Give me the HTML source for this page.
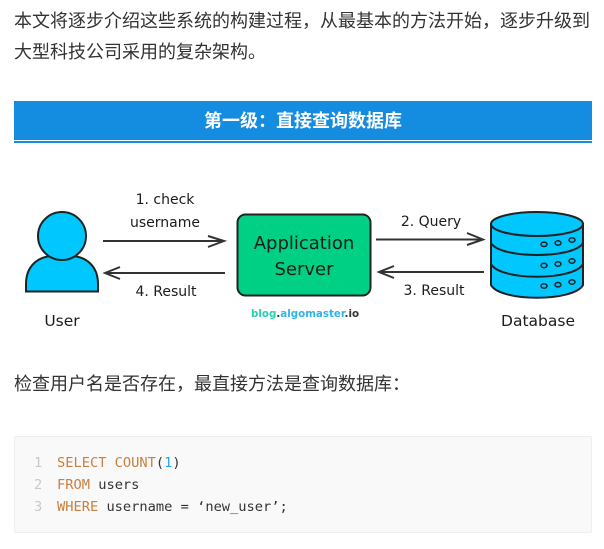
<!DOCTYPE html>
<html><head><meta charset="utf-8">
<style>
html,body{margin:0;padding:0;background:#fff;width:604px;height:549px;overflow:hidden}
.a{position:absolute;white-space:nowrap}
.t{font:18px/28px "Liberation Sans","Noto Sans CJK SC",sans-serif;color:#333;left:14px}
.c{font:13.7px/22px "DejaVu Sans Mono","Liberation Mono",monospace;color:#333;left:57px}
.k{color:#c8803f}.n{left:34px;color:#c8c8c8;font:13.7px/22px "DejaVu Sans Mono",monospace}
svg{position:absolute;left:0;top:0}
svg text{font-family:"DejaVu Sans","Liberation Sans",sans-serif;fill:#1c1c1c}
</style></head><body>
<div class="a t" style="top:7px">本文将逐步介绍这些系统的构建过程，从最基本的方法开始，逐步升级到</div>
<div class="a t" style="top:38px">大型科技公司采用的复杂架构。</div>
<div class="a" style="left:14px;top:101px;width:578px;height:39px;background:#148ce0"></div>
<div class="a" style="left:14px;top:141px;width:578px;height:2px;background:#148ce0"></div>
<div class="a" style="left:14px;top:102px;width:578px;height:39px;text-align:center;color:#fff;font:bold 18px/39px 'Liberation Sans','Noto Sans CJK SC',sans-serif">第一级：直接查询数据库</div>
<svg width="604" height="549" viewBox="0 0 604 549">
<g stroke="#222" stroke-width="2">
<path d="M26 291.500V284C26 266 38 256 54 256H70C86 256 98 266 98 284V291.500Z" fill="#00c8ff"/>
<circle cx="62" cy="236" r="24" fill="#00c8ff"/>
<rect x="237.500" y="214.500" width="133" height="81" rx="8" fill="#00d084"/>
<path d="M491 224V285C500 302 574 302 583 285V224Z" fill="#00c8ff"/>
<ellipse cx="537" cy="224" rx="46" ry="12" fill="#00c8ff"/>
<path d="M491 243C500 259 574 259 583 243M491 264C500 281 574 281 583 264" fill="none"/>
<g fill="none" stroke-width="1.500">
<ellipse cx="544" cy="244.300" rx="3" ry="2.200"/><ellipse cx="558" cy="243" rx="3" ry="2.200"/><ellipse cx="572" cy="240" rx="3" ry="2.200"/>
<ellipse cx="544" cy="265.500" rx="3" ry="2.200"/><ellipse cx="558" cy="264" rx="3" ry="2.200"/><ellipse cx="572" cy="261" rx="3" ry="2.200"/>
<ellipse cx="544" cy="286" rx="3" ry="2.200"/><ellipse cx="558" cy="284.700" rx="3" ry="2.200"/><ellipse cx="572" cy="282" rx="3" ry="2.200"/>
</g>
</g>
<g stroke="#333" stroke-width="2" fill="none">
<path d="M103 241H224M208 236L224 241L208 247"/>
<path d="M225 273H105M120 267L105 273L120 279"/>
<path d="M376 239.500H483M467 233L483 239.500L467 245"/>
<path d="M484 272H379M394 266L379 272L394 278"/>
</g>
<g text-anchor="middle" font-size="14">
<text x="165" y="204">1. check</text>
<text x="165" y="227">username</text>
<text x="166" y="296">4. Result</text>
<text x="431" y="226">2. Query</text>
<text x="434" y="295">3. Result</text>
<text x="62" y="326" font-size="15.500">User</text>
<text x="538" y="326" font-size="15.500">Database</text>
<text x="304" y="249" font-size="18">Application</text>
<text x="304" y="275" font-size="18">Server</text>
</g>
<text x="251" y="317" font-size="10.300" font-weight="bold" style="fill:#2ccfae">blog<tspan style="fill:#333">.</tspan><tspan style="fill:#2fb4ea">algomaster</tspan><tspan style="fill:#333">.io</tspan></text>
</svg>
<div class="a t" style="top:370px">检查用户名是否存在，最直接方法是查询数据库：</div>
<div class="a" style="left:14px;top:436px;width:576px;height:95px;background:#f9f9f9;border:1px solid #eee;border-radius:2px"></div>
<div class="a n" style="top:452px">1</div><div class="a n" style="top:474px">2</div><div class="a n" style="top:496px">3</div>
<div class="a c" style="top:452px"><span class="k">SELECT COUNT</span>(<span style="color:#2aa6ee">1</span>)</div>
<div class="a c" style="top:474px"><span class="k">FROM</span> users</div>
<div class="a c" style="top:496px"><span class="k">WHERE</span> username = ‘new_user’;</div>
</body></html>
